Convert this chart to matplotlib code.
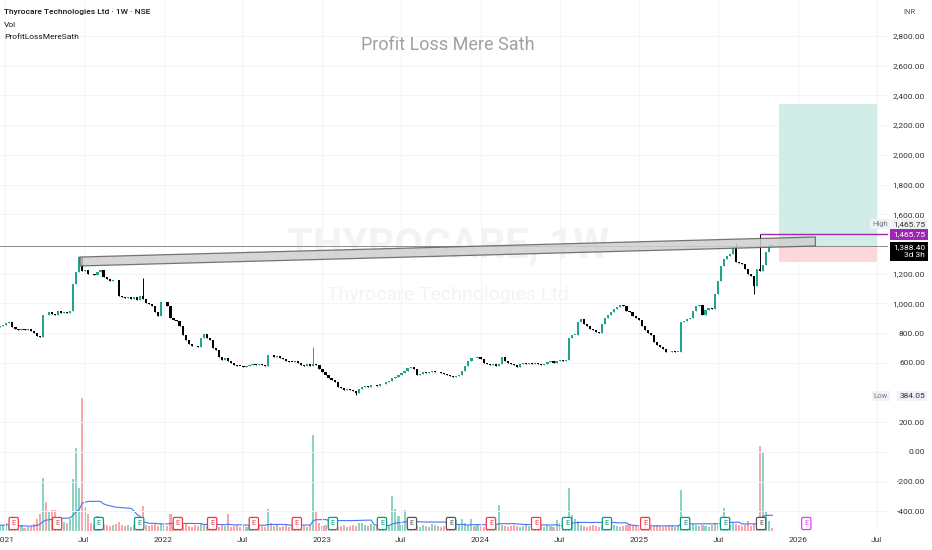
import numpy as np
import pandas as pd
import matplotlib
matplotlib.use('Agg')
import matplotlib.pyplot as plt
import matplotlib.dates as mdates
from matplotlib.patches import Polygon, Rectangle

plt.rcParams['font.family'] = ['Roboto', 'DejaVu Sans']

# ---------------- data ----------------
closes = [
    845, 852, 868, 872, 840, 825, 818, 830, 822, 826,
    812, 800, 780, 776, 925, 920, 945, 930, 925, 950,
    938, 945, 935, 948, 1130, 1210, 1312, 1217, 1222, 1200,
    1195, 1190, 1210, 1225, 1180, 1163, 1150, 1160, 1155, 1047,
    1040, 1035, 1045, 1030, 1040, 1025, 1050, 1030, 1000, 993,
    985, 940, 912, 1006, 1010, 980, 900, 890, 880, 850,
    790, 756, 730, 715, 710, 705, 770, 795, 770, 756,
    700, 688, 640, 620, 630, 615, 600, 585, 580, 578,
    575, 580, 582, 590, 584, 595, 588, 580, 654, 650,
    640, 645, 632, 625, 615, 607, 605, 610, 600, 585,
    580, 590, 578, 590, 582, 560, 540, 520, 500, 485,
    470, 440, 430, 420, 425, 415, 410, 400, 425, 440,
    445, 440, 448, 450, 445, 455, 460, 470, 480, 495,
    505, 520, 530, 545, 565, 572, 560, 520, 525, 535,
    530, 540, 545, 535, 538, 530, 525, 515, 510, 505,
    512, 520, 545, 580, 610, 635, 630, 640, 625, 600,
    595, 585, 590, 580, 595, 640, 615, 600, 595, 585,
    575, 590, 598, 595, 600, 592, 596, 590, 585, 595,
    605, 610, 600, 615, 620, 612, 618, 770, 790, 790,
    878, 892, 860, 850, 830, 820, 810, 800, 860, 900,
    920, 940, 960, 975, 990, 985, 950, 940, 915, 900,
    890, 850, 820, 800, 790, 740, 720, 708, 690, 675,
    670, 680, 672, 675, 878, 880, 895, 905, 950, 980,
    990, 925, 955, 966, 960, 1061, 1149, 1250, 1300, 1320,
    1330, 1380, 1278, 1270, 1264, 1230, 1195, 1185, 1115, 1230,
    1215, 1260, 1345, 1395, 1388,
]
first_open = 840
notable_highs = {26: 1318, 47: 1171, 103: 708, 242: 1405, 250: 1465.75}
notable_lows = {117: 384.05, 248: 1066}

volumes = [
    6, 5, 8, 5, 3, 5, 4, 6, 3, 4,
    5, 7, 12, 17, 53, 29, 19, 21, 21, 14,
    12, 9, 8, 12, 52, 83, 43, 133, 24, 17,
    8, 6, 15, 10, 7, 6, 5, 6, 7, 9,
    6, 5, 6, 4, 6, 5, 8, 25, 6, 5,
    6, 7, 5, 8, 6, 5, 17, 6, 5, 7,
    6, 8, 5, 4, 6, 5, 8, 6, 5, 7,
    6, 5, 4, 6, 5, 17, 4, 5, 6, 4,
    5, 4, 6, 5, 4, 6, 5, 4, 22, 8,
    5, 6, 4, 5, 6, 4, 5, 6, 4, 5,
    5, 4, 6, 96, 19, 8, 5, 6, 4, 5,
    6, 4, 5, 6, 4, 5, 6, 5, 8, 8,
    6, 5, 7, 5, 6, 5, 4, 6, 5, 35,
    22, 15, 6, 21, 7, 5, 6, 5, 4, 6,
    5, 4, 7, 6, 5, 4, 5, 6, 5, 4,
    11, 6, 12, 8, 6, 12, 5, 6, 5, 4,
    5, 6, 4, 5, 26, 6, 5, 4, 5, 6,
    5, 4, 5, 6, 5, 4, 5, 6, 5, 4,
    6, 5, 4, 11, 8, 6, 5, 43, 16, 12,
    10, 6, 5, 4, 5, 6, 5, 4, 6, 5,
    4, 5, 6, 5, 4, 5, 6, 7, 6, 5,
    4, 5, 6, 5, 4, 5, 6, 5, 4, 5,
    6, 5, 4, 5, 41, 8, 6, 5, 7, 6,
    5, 6, 5, 4, 6, 8, 7, 6, 23, 7,
    6, 8, 7, 6, 5, 6, 10, 5, 7, 6,
    85, 79, 19, 10, 3,
]
last_date = '2025-11-03'

earn_dates = ['2021-01-21', '2021-05-01', '2021-08-05', '2021-11-06', '2022-02-03',
              '2022-04-23', '2022-07-28', '2022-11-04', '2023-01-26', '2023-05-19',
              '2023-07-27', '2023-10-25', '2024-01-25', '2024-05-08', '2024-07-18',
              '2024-10-18', '2025-01-14', '2025-04-16', '2025-07-17', '2025-10-08',
              '2026-01-20']
earn_kind = ['d', 'd', 'u', 'u', 'd', 'd', 'd', 'd', 'u', 'u', 'n', 'n',
             'd', 'd', 'u', 'u', 'd', 'u', 'u', 'n', 'f']

channel_dates = ['2021-06-23', '2026-02-10']
channel_top = [1312, 1447]
channel_bottom = [1252, 1386]

last_price = 1388.40
high_price = 1465.75
low_price = 384.05
high_start = '2025-10-06'
target_price = 2342
stop_price = 1279
position_dates = ['2025-11-18', '2026-07-01']

price_ticks = [-400, -200, 0, 200, 600, 800, 1000, 1200, 1600, 1800,
               2000, 2200, 2400, 2600, 2800]
time_ticks = ['2021-01-01', '2021-07-01', '2022-01-01', '2022-07-01', '2023-01-01',
              '2023-07-01', '2024-01-01', '2024-07-01', '2025-01-01', '2025-07-01',
              '2026-01-01', '2026-07-01']
time_labels = ['2021', 'Jul', '2022', 'Jul', '2023', 'Jul', '2024', 'Jul',
               '2025', 'Jul', '2026', 'Jul']

# ---------------- derived ----------------
n = len(closes)
dates = pd.date_range(end=last_date, periods=n, freq='7D')
x = mdates.date2num(dates.to_pydatetime())
c = np.array(closes, dtype=float)
o = np.concatenate([[first_open], c[:-1]])
h = np.maximum(o, c)
l = np.minimum(o, c)
for k, v in notable_highs.items():
    h[k] = v
for k, v in notable_lows.items():
    l[k] = v
up = c >= o

UP = '#22a38c'
DN = '#000000'
VUP = '#8ad3c5'
VDN = '#f7a6ab'

W, H = 932, 550
fig = plt.figure(figsize=(W / 100, H / 100), dpi=100)
fig.patch.set_facecolor('white')

axb = 531  # pane bottom px
ax_rect = [0, (H - axb) / H, 888 / W, axb / H]
axv = fig.add_axes(ax_rect)
ax = fig.add_axes(ax_rect, sharex=axv)
ax.patch.set_visible(False)
axv.set_zorder(0)
ax.set_zorder(1)

xl = mdates.date2num(pd.Timestamp('2021-01-01')) - 11.5
xr = mdates.date2num(pd.Timestamp('2021-01-01')) + 2033.2
ax.set_xlim(xl, xr)
ax.set_ylim(-532, 3042)
axv.set_ylim(0, axb)

# grid
for v in price_ticks:
    ax.axhline(v, color='#f3f4f7', lw=0.7, zorder=0)
tt = mdates.date2num(pd.to_datetime(time_ticks).to_pydatetime())
for t in tt:
    ax.axvline(t, color='#f3f4f7', lw=0.7, zorder=0)

# volume
vcol = np.where(up, VUP, VDN)
axv.bar(x, volumes, width=4.8, color=vcol, linewidth=0, zorder=1)
ma = pd.Series(volumes, dtype=float).rolling(20, min_periods=1).mean()
axv.plot(x, ma, color='#4a74f5', lw=0.8, zorder=2)

# earnings markers
ecol = {'d': '#f23645', 'u': '#089981', 'n': '#555555', 'f': '#e040fb'}
for d, k in zip(earn_dates, earn_kind):
    xe = mdates.date2num(pd.Timestamp(d))
    axv.text(xe, 7.5, 'E', ha='center', va='center', fontsize=5.3, color=ecol[k],
             zorder=3,
             bbox=dict(boxstyle='round,pad=0.35,rounding_size=0.2', fc='white',
                       ec=ecol[k], lw=0.9))
axv.axis('off')

# watermark
ax.text(448 / 888, 1 - 246 / axb, 'THYROCARE, 1W', transform=ax.transAxes,
        ha='center', va='center', fontsize=30, fontweight='bold',
        color='#f3f3f3', zorder=0)
ax.text(448 / 888, 1 - 295 / axb, 'Thyrocare Technologies Ltd', transform=ax.transAxes,
        ha='center', va='center', fontsize=14, color='#f3f3f3', zorder=0)

# long position box
pd0, pd1 = mdates.date2num(pd.to_datetime(position_dates).to_pydatetime())
ax.add_patch(Rectangle((pd0, last_price), pd1 - pd0, target_price - last_price,
                       fc='#d2ece7', ec='none', zorder=1))
ax.add_patch(Rectangle((pd0, stop_price), pd1 - pd0, last_price - stop_price,
                       fc='#fcd8dc', ec='none', zorder=1))

# current price line
ax.axhline(last_price, color='#8c8c8c', lw=0.7, zorder=2)

# candles
bcol = np.where(up, UP, DN)
ax.vlines(x, l, h, colors=bcol, lw=0.7, zorder=3)
body = np.maximum(np.abs(c - o), 5)
ax.bar(x, body, bottom=np.minimum(o, c), width=5.0, color=bcol, linewidth=0, zorder=4)

# channel
cd = mdates.date2num(pd.to_datetime(channel_dates).to_pydatetime())
poly = [(cd[0], channel_top[0]), (cd[1], channel_top[1]),
        (cd[1], channel_bottom[1]), (cd[0], channel_bottom[0])]
ax.add_patch(Polygon(poly, closed=True, fc='#cfcfcf', ec='#5f5f5f', lw=0.9,
                     alpha=0.85, zorder=5))

# high ray
hs = mdates.date2num(pd.Timestamp(high_start))
ax.hlines(high_price, hs, xr, color='#9c27b0', lw=1.0, zorder=6)

# axes styling
for s in ax.spines.values():
    s.set_visible(False)
ax.yaxis.tick_right()
ax.set_yticks(price_ticks)
ax.set_yticklabels([f'{v:,.2f}' for v in price_ticks])
ax.tick_params(axis='y', length=0, pad=26.6, labelsize=6, labelcolor='#333333')
for lbl in ax.get_yticklabels():
    lbl.set_horizontalalignment('right')
ax.set_xticks(tt)
ax.set_xticklabels(time_labels)
ax.tick_params(axis='x', length=0, pad=4.5, labelsize=6, labelcolor='#333333')

# price axis special labels
tr = ax.get_yaxis_transform()
xa = 925 / 888
ax.text(888 / 888, 1532, 'High', transform=tr, ha='right', va='center', fontsize=5.5,
        color='#787b86', clip_on=False,
        bbox=dict(boxstyle='square,pad=0.25', fc='#eef1f6', ec='none'))
ax.text(xa, 1532, f'{high_price:,.2f}', transform=tr, ha='right', va='center',
        fontsize=6, color='#333333', clip_on=False,
        bbox=dict(boxstyle='square,pad=0.25', fc='#eef1f6', ec='none'))
ax.text(xa, high_price, f'{high_price:,.2f}', transform=tr, ha='right', va='center',
        fontsize=6, color='white', clip_on=False,
        bbox=dict(boxstyle='square,pad=0.3', fc='#9c27b0', ec='none'))
ax.text(xa, 1350, f'{last_price:,.2f}\n3d 3h', transform=tr, ha='right', va='center',
        fontsize=6, color='white', clip_on=False, linespacing=1.3,
        bbox=dict(boxstyle='square,pad=0.3', fc='#000000', ec='none'))
ax.text(888 / 888, low_price - 7, 'Low', transform=tr, ha='right', va='center',
        fontsize=5.5, color='#787b86', clip_on=False,
        bbox=dict(boxstyle='square,pad=0.25', fc='#eef1f6', ec='none'))
ax.text(xa, low_price - 7, f'{low_price:,.2f}', transform=tr, ha='right', va='center',
        fontsize=6, color='#333333', clip_on=False,
        bbox=dict(boxstyle='square,pad=0.25', fc='#eef1f6', ec='none'))

# header texts
fig.text(4 / W, 1 - 12 / H, 'Thyrocare Technologies Ltd · 1W · NSE', fontsize=6,
         fontweight='medium', color='#131722', va='center')
fig.text(4 / W, 1 - 25 / H, 'Vol', fontsize=6, color='#131722', va='center')
fig.text(4 / W, 1 - 37 / H, 'ProfitLossMereSath', fontsize=6, color='#131722', va='center')
fig.text(910 / W, 1 - 12 / H, 'INR', fontsize=5.5, color='#555555', va='center', ha='center')
fig.text(448 / W, 1 - 45 / H, 'Profit Loss Mere Sath', fontsize=13, color='#a0a0a0',
         ha='center', va='center')

fig.savefig('out.png', dpi=100, facecolor='white')
